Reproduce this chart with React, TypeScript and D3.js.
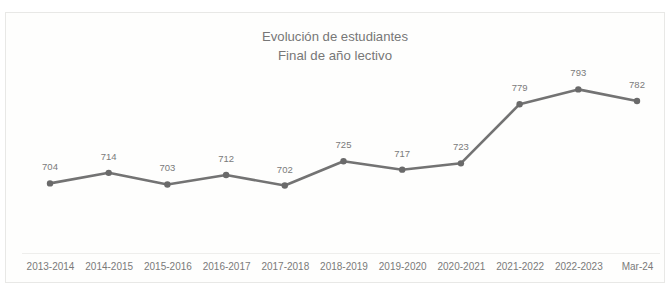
import React from "react";
import * as d3 from "d3";

const years = [
  "2013-2014",
  "2014-2015",
  "2015-2016",
  "2016-2017",
  "2017-2018",
  "2018-2019",
  "2019-2020",
  "2020-2021",
  "2021-2022",
  "2022-2023",
  "Mar-24",
];
const students = [704, 714, 703, 712, 702, 725, 717, 723, 779, 793, 782];
const titleLines = ["Evolución de estudiantes", "Final de año lectivo"];

const W = 670;
const H = 287;
const font = "'Liberation Sans', sans-serif";

const App = () => {
  const svgRef = React.useRef<SVGSVGElement>(null);

  React.useEffect(() => {
    const svg = d3.select(svgRef.current);
    svg.selectAll("*").remove();

    const x = d3
      .scalePoint<string>()
      .domain(years)
      .range([50, 637]);
    const y = d3.scaleLinear().domain([640, 800]).range([251, 82]);

    // frame
    svg
      .append("rect")
      .attr("x", 5.5)
      .attr("y", 12.5)
      .attr("width", 659)
      .attr("height", 270)
      .attr("fill", "#fefefd")
      .attr("stroke", "#e8e8e6");

    svg
      .append("g")
      .attr("fill", "#777")
      .attr("font-family", font)
      .attr("font-size", 13.5)
      .attr("text-anchor", "middle")
      .selectAll("text")
      .data(titleLines)
      .join("text")
      .attr("x", 335)
      .attr("y", (_, i) => 41 + i * 19)
      .attr("textLength", (_, i) => (i === 0 ? 146 : 114))
      .attr("lengthAdjust", "spacingAndGlyphs")
      .text((d) => d);

    // faint axis line
    svg
      .append("line")
      .attr("x1", 22)
      .attr("x2", 660)
      .attr("y1", 253.5)
      .attr("y2", 253.5)
      .attr("stroke", "#eeeeec");

    const xAxis = svg
      .append("g")
      .attr("transform", "translate(0,253)")
      .call(d3.axisBottom(x).tickSize(0).tickPadding(10));
    xAxis.select(".domain").remove();
    xAxis
      .selectAll("text")
      .attr("fill", "#7a7a7a")
      .attr("font-family", font)
      .attr("font-size", 10);

    const data = years.map((d, i) => ({ year: d, v: students[i] }));

    const line = d3
      .line<{ year: string; v: number }>()
      .x((d) => x(d.year)!)
      .y((d) => y(d.v));

    svg
      .append("path")
      .datum(data)
      .attr("d", line)
      .attr("fill", "none")
      .attr("stroke", "#737373")
      .attr("stroke-width", 2.6)
      .attr("stroke-linejoin", "round");

    svg
      .append("g")
      .selectAll("circle")
      .data(data)
      .join("circle")
      .attr("cx", (d) => x(d.year)!)
      .attr("cy", (d) => y(d.v))
      .attr("r", 3.2)
      .attr("fill", "#6a6a6a");

    svg
      .append("g")
      .attr("font-family", font)
      .attr("font-size", 9.5)
      .attr("fill", "#7a7a7a")
      .attr("text-anchor", "middle")
      .selectAll("text")
      .data(data)
      .join("text")
      .attr("x", (d) => x(d.year)!)
      .attr("y", (d) => y(d.v) - 13)
      .text((d) => d.v);
  }, []);

  return (
    <svg
      ref={svgRef}
      width={W}
      height={H}
      style={{ position: "absolute", left: 0, top: 0, background: "#fff" }}
    />
  );
};

export default App;
